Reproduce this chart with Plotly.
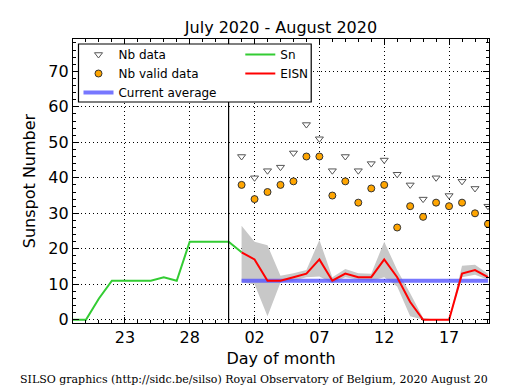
import plotly.graph_objects as go

# ---- data (x = day number counted from July 1; Aug n = 31 + n) ----
sn_days = [19, 20, 21, 22, 23, 24, 25, 26, 27, 28, 29, 30, 31, 32]
sn_values = [0, 0, 6, 11, 11, 11, 11, 12, 11, 22, 22, 22, 22, 19]

aug_days = [32, 33, 34, 35, 36, 37, 38, 39, 40, 41, 42, 43, 44, 45, 46, 47, 48, 49, 50, 51]
eisn = [19, 17, 11, 11, 12, 13, 17, 11, 13, 12, 12, 17, 12, 5, 0, 0, 0, 13, 14, 12]
eisn_upper = [26.5, 22, 21, 12.4, 13.1, 14, 22.5, 12, 14.3, 13.1, 13, 22, 14, 7.5, 0.5, 0, 0, 15.2, 15.5, 13]
eisn_lower = [10.5, 10, 1, 10.5, 11, 12, 12.2, 10.3, 12, 11.3, 11, 12, 9.4, 1, 0, 0, 0, 12, 12.7, 11.3]
nb_data = [46, 40, 42, 43, 47, 55, 51, 42, 46, 42, 44, 45, 41, 38, 34, 40, 35, 39, 37, 32]
nb_valid = [38, 34, 36, 38, 39, 46, 46, 35, 39, 33, 37, 38, 26, 32, 29, 33, 32, 33, 30, 27]
avg_days = [32, 51]
avg_values = [11, 11]
month_boundary = 31

tick_vals = [23, 28, 33, 38, 43, 48]
tick_text = ['23', '28', '02', '07', '12', '17']

FONT = "DejaVu Sans"

fig = go.Figure()

fig.add_trace(go.Scatter(
    x=aug_days + aug_days[::-1], y=eisn_upper + eisn_lower[::-1],
    fill='toself', fillcolor='#c8c8c8', line=dict(width=0),
    mode='lines', showlegend=False, hoverinfo='skip'))

fig.add_trace(go.Scatter(
    x=avg_days, y=avg_values, mode='lines', name='Current average',
    line=dict(color='rgba(85,85,255,0.8)', width=4),
    legend='legend', legendrank=3))

fig.add_trace(go.Scatter(
    x=sn_days, y=sn_values, mode='lines', name='Sn',
    line=dict(color='#33cc33', width=2), legend='legend2', legendrank=1))

fig.add_trace(go.Scatter(
    x=aug_days, y=eisn, mode='lines', name='EISN',
    line=dict(color='#ff0000', width=2), legend='legend2', legendrank=2))

fig.add_trace(go.Scatter(
    x=aug_days, y=nb_data, mode='markers', name='Nb data',
    marker=dict(symbol='triangle-down', size=7, color='white',
                line=dict(color='#555555', width=1)),
    legend='legend', legendrank=1))

fig.add_trace(go.Scatter(
    x=aug_days, y=nb_valid, mode='markers', name='Nb valid data',
    marker=dict(symbol='circle', size=7, color='#ffa500',
                line=dict(color='#333333', width=1)),
    legend='legend', legendrank=2))

# page body has an 8px margin: work in window pixels, shift by OFF
OFF = 8
L, R, T, B = 72.5 - OFF, 489 - OFF, 39 - OFF, 323 - OFF
W, H = 515 - OFF, 390 - OFF
pw, ph = R - L, B - T

def px(x):
    return (x - OFF - L) / pw

def py(y):
    return (B - (y - OFF)) / ph

fig.add_shape(type='line', x0=month_boundary, x1=month_boundary, xref='x',
              y0=0, y1=1, yref='paper', line=dict(color='black', width=1.2),
              layer='above')
fig.add_shape(type='rect', xref='paper', yref='paper',
              x0=px(78), x1=px(311), y0=py(102), y1=py(44),
              fillcolor='white', line=dict(color='black', width=1.2), layer='above')

axis_common = dict(
    showline=True, linecolor='black', linewidth=1.2, mirror='allticks',
    ticks='inside', ticklen=6, tickcolor='black', tickwidth=1,
    showgrid=True, gridcolor='black', griddash='1px,3px', gridwidth=1,
    zeroline=False, tickfont=dict(family=FONT, size=16, color='black'),
)

fig.update_layout(
    width=W, height=H,
    margin=dict(l=L, r=W - R, t=T, b=H - B, pad=0, autoexpand=False),
    paper_bgcolor='white', plot_bgcolor='white',
    font=dict(family=FONT, size=16, color='black'),
    title=dict(text='July 2020 - August 2020', x=0.5, xref='paper',
               y=1 - (27 - OFF) / H, yref='container', yanchor='middle',
               font=dict(family=FONT, size=16, color='black')),
    xaxis=dict(range=[19, 51.08], tickvals=tick_vals, ticktext=tick_text,
               automargin=False,
               title=dict(text='Day of month', standoff=6,
                          font=dict(family=FONT, size=16)),
               minor=dict(ticks='inside', ticklen=3, dtick=1, tick0=19,
                          tickcolor='black', showgrid=False),
               **axis_common),
    yaxis=dict(range=[-0.9, 79.1], tickvals=[0, 10, 20, 30, 40, 50, 60, 70],
               automargin=False,
               title=dict(text='Sunspot Number', standoff=8,
                          font=dict(family=FONT, size=16)),
               minor=dict(ticks='inside', ticklen=3, dtick=2, tick0=0,
                          tickcolor='black', showgrid=False),
               **axis_common),
    legend=dict(x=px(78), y=py(40), xanchor='left', yanchor='top',
                bgcolor='rgba(0,0,0,0)', borderwidth=0,
                font=dict(family=FONT, size=12, color='black'),
                traceorder='normal'),
    legend2=dict(x=px(240), y=py(40), xanchor='left', yanchor='top',
                 bgcolor='rgba(0,0,0,0)', borderwidth=0,
                 font=dict(family=FONT, size=12, color='black'),
                 traceorder='normal'),
    annotations=[dict(
        text='SILSO graphics (http://sidc.be/silso) Royal Observatory of Belgium, 2020 August 20',
        xref='paper', yref='paper', x=px(17), y=py(379), xanchor='left', yanchor='middle',
        showarrow=False, font=dict(family='DejaVu Serif', size=11, color='black'))],
)

fig.write_html('out.html')
